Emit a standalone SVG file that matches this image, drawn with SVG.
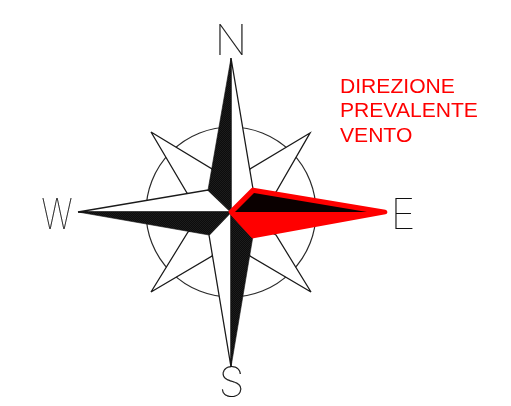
<svg xmlns="http://www.w3.org/2000/svg" width="511" height="406" viewBox="0 0 511 406">
<defs>
<pattern id="d" width="2" height="2" patternUnits="userSpaceOnUse">
<rect width="2" height="2" fill="#0c0c0c"/>
<rect width="1" height="1" fill="#1c1c1c"/>
<rect x="1" y="1" width="1" height="1" fill="#1c1c1c"/>
</pattern>
<filter id="g" x="-20%" y="-20%" width="140%" height="140%" color-interpolation-filters="sRGB"><feOffset dx="0" dy="0"/></filter>
</defs>
<style>
.o{fill:#fff;stroke:#1a1a1a;stroke-width:1.3;stroke-linejoin:miter}
.b{fill:url(#d);stroke:#111;stroke-width:.6}
.c{fill:#fff;stroke:#2a2a2a;stroke-width:1.2}
.l{font-family:Inter,"Liberation Sans",sans-serif;font-weight:100;font-size:42px;fill:#111;stroke:#111;stroke-width:.2;text-anchor:middle;filter:url(#g)}
.r{font-family:"Liberation Sans",Arial,sans-serif;font-size:21.1px;fill:#f00;filter:url(#g)}
</style>
<rect width="511" height="406" fill="#fff"/>
<g id="ring"><circle class="c" cx="231" cy="212" r="85"/></g>
<g id="connectors"></g>
<g id="diagonals">
<polygon class="o" points="151,132 212,169 231,212 187,193"/>
<polygon class="o" points="310,133 250,169 231,212 276,192"/>
<polygon class="o" points="151,292 188,232 231,212 212,256"/>
<polygon class="o" points="311,292 276,235 231,212 250,256"/>
</g>
<g id="star">
<polygon class="o" points="231,58 253,189 231,212"/>
<polygon class="b" points="231,58 208,190 231,212"/>
<polygon class="o" points="78,212 208,190 231,212"/>
<polygon class="b" points="78,212 209,235 231,212"/>
<polygon class="o" points="231,367 209,235 231,212"/>
<polygon class="b" points="231,367 253,236 231,212"/>
</g>
<g id="east">
<polygon points="231,212 253,190 385,212 253,236" fill="#f00" stroke="#f00" stroke-width="4.8" stroke-linejoin="round"/>
<polygon points="235,212 254,193 367,212" fill="#0a0000"/>
</g>
<g id="N"><text class="l" x="231" y="55">N</text></g>
<g id="W"><text class="l" x="57" y="229" textLength="31" lengthAdjust="spacingAndGlyphs">W</text></g>
<g id="E"><text class="l" x="403" y="229">E</text></g>
<g id="S"><text class="l" x="231.500" y="397">S</text></g>
<g id="label">
<text class="r" x="340" y="93">DIREZIONE</text>
<text class="r" x="340" y="117">PREVALENTE</text>
<text class="r" x="340" y="142">VENTO</text>
</g>
</svg>
